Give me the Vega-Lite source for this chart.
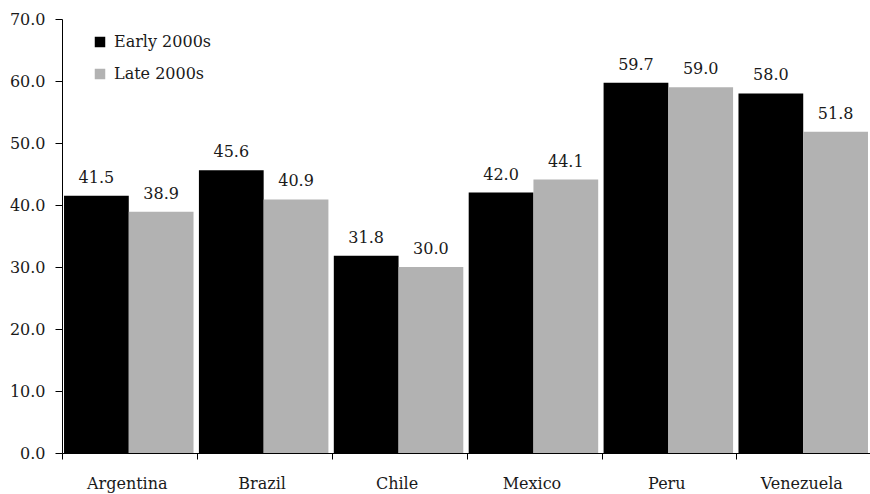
{
  "$schema": "https://vega.github.io/schema/vega-lite/v6.json",
  "width": 808,
  "height": 434,
  "autosize": {"type": "none"},
  "padding": {"left": 62, "top": 19, "right": 0, "bottom": 41},
  "background": "white",
  "config": {
    "view": {"stroke": null},
    "font": "DejaVu Serif",
    "axis": {
      "labelFont": "DejaVu Serif",
      "labelFontSize": 16,
      "labelColor": "#1a1a1a",
      "domainColor": "#000000",
      "tickColor": "#000000",
      "grid": false,
      "title": null
    },
    "legend": {
      "labelFont": "DejaVu Serif",
      "labelFontSize": 16,
      "labelColor": "#1a1a1a"
    },
    "text": {"font": "DejaVu Serif"}
  },
  "data": {
    "values": [
      {"country": "Argentina", "period": "Early 2000s", "value": 41.5},
      {"country": "Argentina", "period": "Late 2000s", "value": 38.9},
      {"country": "Brazil", "period": "Early 2000s", "value": 45.6},
      {"country": "Brazil", "period": "Late 2000s", "value": 40.9},
      {"country": "Chile", "period": "Early 2000s", "value": 31.8},
      {"country": "Chile", "period": "Late 2000s", "value": 30.0},
      {"country": "Mexico", "period": "Early 2000s", "value": 42.0},
      {"country": "Mexico", "period": "Late 2000s", "value": 44.1},
      {"country": "Peru", "period": "Early 2000s", "value": 59.7},
      {"country": "Peru", "period": "Late 2000s", "value": 59.0},
      {"country": "Venezuela", "period": "Early 2000s", "value": 58.0},
      {"country": "Venezuela", "period": "Late 2000s", "value": 51.8}
    ]
  },
  "encoding": {
    "x": {
      "field": "country",
      "type": "nominal",
      "sort": null,
      "scale": {"paddingInner": 0.04, "paddingOuter": 0.015},
      "axis": {
        "labelAngle": 0,
        "bandPosition": 0,
        "tickOffset": -2,
        "tickSize": 6,
        "labelPadding": 16,
        "domainWidth": 1
      }
    },
    "xOffset": {"field": "period", "type": "nominal", "sort": ["Early 2000s", "Late 2000s"]},
    "y": {
      "field": "value",
      "type": "quantitative",
      "scale": {"domain": [0, 70], "nice": false},
      "axis": {
        "values": [0, 10, 20, 30, 40, 50, 60, 70],
        "format": ".1f",
        "tickSize": 7,
        "labelPadding": 10
      }
    }
  },
  "layer": [
    {
      "mark": {"type": "bar"},
      "encoding": {
        "color": {
          "field": "period",
          "type": "nominal",
          "sort": ["Early 2000s", "Late 2000s"],
          "scale": {"domain": ["Early 2000s", "Late 2000s"], "range": ["#000000", "#b2b2b2"]},
          "legend": {
            "title": null,
            "orient": "none",
            "legendX": 30,
            "legendY": 15,
            "symbolType": "square",
            "symbolSize": 110,
            "symbolStrokeWidth": 0,
            "rowPadding": 16,
            "labelOffset": 6
          }
        }
      }
    },
    {
      "mark": {"type": "text", "baseline": "bottom", "dy": -10, "fontSize": 16, "font": "DejaVu Serif", "color": "#1a1a1a"},
      "encoding": {
        "text": {"field": "value", "type": "quantitative", "format": ".1f"}
      }
    }
  ]
}
